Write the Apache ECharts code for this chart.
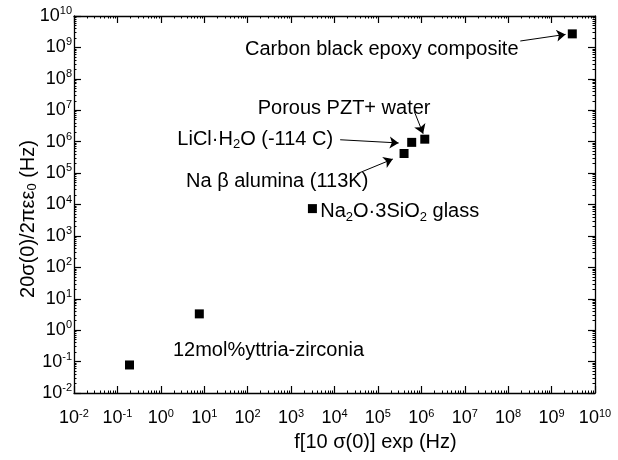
<!DOCTYPE html>
<html>
<head>
<meta charset="utf-8">
<script src="https://cdn.jsdelivr.net/npm/echarts@6/dist/echarts.min.js"></script>
<style>
  html, body { margin: 0; padding: 0; background: #fff; }
  #chart { width: 618px; height: 460px; }
</style>
</head>
<body>
<div id="chart"></div>
<script>
// materials and their measured / estimated frequencies (Hz)
const materials = [
  'Carbon black epoxy composite',
  'Porous PZT+ water',
  'LiCl·H2O (-114 C)',
  'Na beta alumina (113K)',
  'Na2O·3SiO2 glass',
  '12mol%yttria-zirconia',
  '12mol%yttria-zirconia'
];
const fExp = [3.0e9, 1.2e6, 6.0e5, 4.0e5, 3.1e3, 0.19, 7.7];
const fCalc = [2.7e9, 1.2e6, 9.5e5, 4.2e5, 7.4e3, 0.078, 3.3];
const decades = [-2, -1, 0, 1, 2, 3, 4, 5, 6, 7, 8, 9, 10];

// text annotations, anchored in data coordinates
const notes = [
  { text: 'Carbon black epoxy composite', at: [87, 8.5e8] },
  { text: 'Porous PZT+ water', at: [170, 1.1e7] },
  { text: 'LiCl·H{sub|2}O (-114 C)', at: [2.4, 1.2e6] },
  { text: 'Na β alumina (113K)', at: [3.8, 5.5e4] },
  { text: 'Na{sub|2}O·3SiO{sub|2} glass', at: [4.7e3, 5.8e3] },
  { text: '12mol%yttria-zirconia', at: [1.9, 0.23] }
];
const arrows = [
  [[1.9e8, 1.6e9], [2.1e9, 2.6e9]],
  [[6.9e5, 9.1e6], [1.1e6, 1.8e6]],
  [[1.35e4, 1.15e6], [3.0e5, 9.1e5]],
  [[3.3e4, 9.5e4], [2.2e5, 2.8e5]]
];

const FONT = '"Liberation Sans", Arial, Helvetica, sans-serif';

// log-spaced minor ticks, in exponent units
const minorTicks = [];
for (let d = decades[0]; d < decades[decades.length - 1]; d++) {
  for (let k = 2; k <= 9; k++) minorTicks.push(d + Math.log10(k));
}

const tickRich = {
  b: { fontSize: 18, fontFamily: FONT, color: '#000' },
  s: { fontSize: 11, fontFamily: FONT, color: '#000', padding: [0, 0, 10, 0] }
};
function powLabel(v) {
  return '{b|10}{s|' + Math.round(Math.log10(v)) + '}';
}

const lineStyle = { color: '#000', width: 1.3 };

function majorAxis(position, showLabel) {
  return {
    type: 'log',
    logBase: 10,
    position: position,
    min: Math.pow(10, decades[0]),
    max: Math.pow(10, decades[decades.length - 1]),
    interval: 1,
    axisLine: { show: true, onZero: false, lineStyle: lineStyle },
    axisTick: { show: true, inside: true, length: 7, lineStyle: { color: '#000', width: 1.2 } },
    splitLine: { show: false },
    axisLabel: showLabel ? {
      show: true,
      interval: 0,
      hideOverlap: false,
      formatter: powLabel,
      rich: tickRich,
      color: '#000'
    } : { show: false }
  };
}
function minorAxis(position) {
  return {
    type: 'value',
    position: position,
    min: decades[0],
    max: decades[decades.length - 1],
    axisLine: { show: false, onZero: false },
    axisTick: { show: true, inside: true, length: 2.5, customValues: minorTicks,
      lineStyle: { color: '#000', width: 1 } },
    splitLine: { show: false },
    axisLabel: { show: false }
  };
}

const xAxes = [majorAxis('bottom', true), minorAxis('bottom'), majorAxis('top', false), minorAxis('top')];
const yAxes = [majorAxis('left', true), minorAxis('left'), majorAxis('right', false), minorAxis('right')];

xAxes[0].axisLabel.margin = 15;
xAxes[0].name = 'f[10 σ(0)] exp (Hz)';
xAxes[0].nameLocation = 'middle';
xAxes[0].nameGap = 37;
xAxes[0].nameTextStyle = { fontSize: 20, fontFamily: FONT, color: '#000', padding: [0, 0, 0, 82] };

yAxes[0].axisLabel.margin = 2;

const chart = echarts.init(document.getElementById('chart'));
chart.setOption({
  animation: false,
  backgroundColor: '#fff',
  grid: { left: 74, right: 23, top: 16, bottom: 67, containLabel: false },
  xAxis: xAxes,
  yAxis: yAxes,
  graphic: [
    {
      type: 'text',
      x: 28,
      y: 219,
      rotation: Math.PI / 2,
      style: {
        text: '20σ(0)/2πεε{sub|0} (Hz)',
        align: 'center',
        verticalAlign: 'middle',
        fontSize: 20,
        fontFamily: FONT,
        fill: '#000',
        rich: { sub: { fontSize: 13, fontFamily: FONT, fill: '#000', padding: [8, 0, 0, 0] } }
      }
    }
  ],
  series: [
    {
      name: 'materials',
      type: 'scatter',
      symbol: 'rect',
      symbolSize: 9,
      itemStyle: { color: '#000', opacity: 1 },
      data: fExp.map((x, i) => ({ name: materials[i], value: [x, fCalc[i]] }))
    },
    {
      name: 'arrows',
      type: 'lines',
      coordinateSystem: 'cartesian2d',
      symbol: ['none', 'arrow'],
      symbolSize: 9,
      lineStyle: { color: '#000', width: 1, opacity: 1 },
      data: arrows.map(c => ({ coords: c }))
    },
    {
      name: 'notes',
      type: 'scatter',
      symbolSize: 0,
      silent: true,
      itemStyle: { opacity: 1 },
      data: notes.map(n => ({ value: n.at, text: n.text })),
      label: {
        show: true,
        position: 'inside',
        align: 'left',
        verticalAlign: 'middle',
        fontSize: 20,
        fontFamily: FONT,
        color: '#000',
        opacity: 1,
        formatter: p => p.data.text,
        rich: {
          sub: { fontSize: 13, fontFamily: FONT, color: '#000', padding: [10, 0, 0, 0] }
        }
      }
    }
  ]
});
</script>
</body>
</html>
